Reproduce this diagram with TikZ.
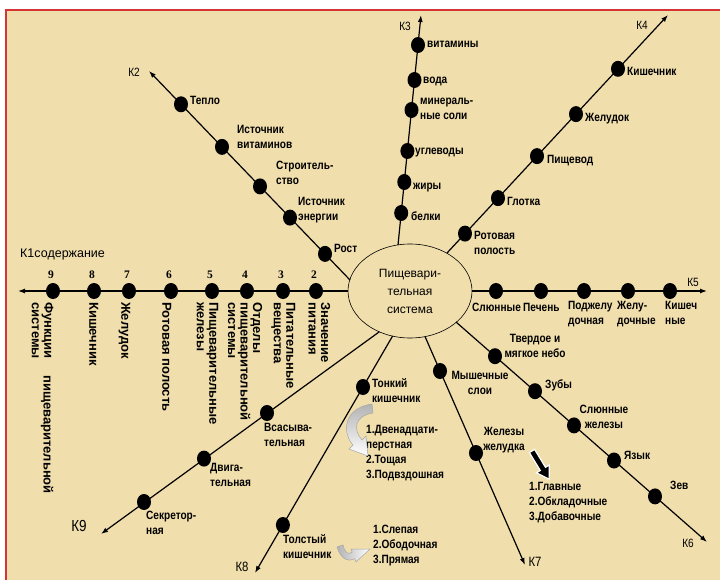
\documentclass[tikz,border=0pt]{standalone}
\usepackage{fontspec}
\setmainfont{Liberation Sans}
\newfontfamily\nar[FakeStretch=0.84]{Liberation Sans}
\newfontfamily\numfont{Liberation Serif}
\usetikzlibrary{arrows.meta,shapes.geometric}
\definecolor{papyrus}{RGB}{240,222,172}
\definecolor{frame}{RGB}{214,52,52}
\newcommand\lf{\nar\bfseries\fontsize{12}{15}\selectfont}
\newcommand\rf{\bfseries\fontsize{13}{12.5}\selectfont}
\newcommand\kf{\nar\fontsize{12}{13}\selectfont}
\begin{document}
\begin{tikzpicture}[x=1pt,y=-1pt,
  ax/.style={line width=1.2pt,-{Latex[length=7pt,width=5pt]}},
  dot/.style={ellipse,fill=black,minimum width=14pt,minimum height=16pt,inner sep=0},
  hl/.style={anchor=north west,yshift=7.4pt,inner sep=0,align=left,font=\lf,execute at begin node=\strut},
  hc/.style={hl,anchor=north,align=center},
  rl/.style={rotate=-90,anchor=north west,inner sep=0,align=left,font=\rf,execute at begin node=\strut},
  klab/.style={font=\kf,inner sep=0},
  num/.style={font=\numfont\bfseries\fontsize{11.5}{13}\selectfont,inner sep=0},
  grayarrow/.style={draw=gray!70,line width=0.5pt}]
\useasboundingbox (0,0) rectangle (720,580);
\fill[white] (0,0) rectangle (720,580);
\fill[papyrus] (6,10) rectangle (720,580);
\draw[frame,line width=2pt] (6,580) -- (6,10) -- (720,10);

% centre
\node[ellipse,draw,line width=0.6pt,minimum width=124pt,minimum height=94pt,inner sep=0,align=center,font=\fontsize{12}{18}\selectfont] (sys) at (410,291) {Пищевари-\\тельная\\система};

% axis ends
\coordinate (t1) at (18,291);
\coordinate (s2) at (350,280);   \coordinate (t2) at (149,71);
\coordinate (s3) at (398,245);   \coordinate (t3) at (421,15);
\coordinate (s4) at (447,253);   \coordinate (t4) at (668,15);
\coordinate (t5) at (707,291);
\coordinate (s6) at (456,322);   \coordinate (t6) at (707,542);
\coordinate (s7) at (425,336.5); \coordinate (t7) at (525,565);
\coordinate (s8) at (392.6,336); \coordinate (t8) at (255,573);
\coordinate (s9) at (379.3,331.8); \coordinate (t9) at (101,534);

\draw[ax] (sys.180) -- (t1);
\draw[ax] (s2) -- (t2);
\draw[ax] (s3) -- (t3);
\draw[ax] (s4) -- (t4);
\draw[ax] (sys.0) -- (t5);
\draw[ax] (s6) -- (t6);
\draw[ax] (s7) -- (t7);
\draw[ax] (s8) -- (t8);
\draw[ax] (s9) -- (t9);

% K1
\foreach \n/\x in {9/53,8/94,7/129,6/171,5/212,4/247,3/283,2/316}{
  \node[dot] (d1\n) at (\x,291) {};
  \node[num] (n1\n) at (\x-2,275) {\n};
}
\node[klab,anchor=west,font=\fontsize{12.5}{14}\selectfont] (k1) at (20,254) {К1содержание};
\node[rl] (l12) at (330.5,302) {Значение\\питания};
\node[rl] (l13) at (295.5,302) {Питательные\\вещества};
\node[rl] (l14) at (262.5,302) {Отделы\\пищеварительной\\системы};
\node[rl] (l15) at (218.5,302) {Пищеварительные\\железы};
\node[rl] (l16) at (171.5,302) {Ротовая полость};
\node[rl] (l17) at (130.5,302) {Желудок};
\node[rl] (l18) at (98.5,302) {Кишечник};
\node[rl] (l19) at (53.5,302) {Функции\\системы};
\node[rl] (l19b) at (53.5,375) {пищеварительной};

% K2
\node[dot] (d21) at (181,104.3) {};
\node[dot] (d22) at (222,146.9) {};
\node[dot] (d23) at (260,186.4) {};
\node[dot] (d24) at (290,217.6) {};
\node[dot] (d25) at (325,253.9) {};
\node[hl] (l21) at (190,101) {Тепло};
\node[hl] (l22) at (237,132) {Источник\\витаминов};
\node[hl] (l23) at (276,168) {Строитель-\\ство};
\node[hl] (l24) at (298,204) {Источник\\энергии};
\node[hl] (l25) at (334,249) {Рост};
\node[klab] (k2) at (134,72) {К2};

% K3
\node[dot] (d31) at (418,45) {};
\node[dot] (d32) at (414.5,80) {};
\node[dot] (d33) at (411.5,110) {};
\node[dot] (d34) at (407.4,151) {};
\node[dot] (d35) at (404.3,182) {};
\node[dot] (d36) at (401.2,213) {};
\node[hl] (l31) at (427,44) {витамины};
\node[hl] (l32) at (423,80) {вода};
\node[hl] (l33) at (420,105) {минераль-\\ные соли};
\node[hl] (l34) at (415,151) {углеводы};
\node[hl] (l35) at (413,186) {жиры};
\node[hl] (l36) at (411,217) {белки};
\node[klab] (k3) at (405,26) {К3};

% K4
\node[dot] (d41) at (465,233.6) {};
\node[dot] (d42) at (498,198.1) {};
\node[dot] (d43) at (537,156.1) {};
\node[dot] (d44) at (576,114.1) {};
\node[dot] (d45) at (618,68.8) {};
\node[hl] (l41) at (474,238) {Ротовая\\полость};
\node[hl] (l42) at (507,202) {Глотка};
\node[hl] (l43) at (547,160) {Пищевод};
\node[hl] (l44) at (585,118) {Желудок};
\node[hl] (l45) at (627,72) {Кишечник};
\node[klab] (k4) at (642,25) {К4};

% K5
\foreach \i/\x in {1/496,2/541,3/584,4/628,5/670}{
  \node[dot] (d5\i) at (\x,291) {};
}
\node[hl] (l51) at (472,308) {Слюнные};
\node[hl] (l52) at (523,308) {Печень};
\node[hl] (l53) at (568,308) {Поджелу\\дочная};
\node[hl] (l54) at (617,308) {Желу-\\дочные};
\node[hl] (l55) at (665,308) {Кишеч\\ные};
\node[klab] (k5) at (693,282) {К5};

% K6
\node[dot] (d61) at (495,356.2) {};
\node[dot] (d62) at (535,391.2) {};
\node[dot] (d63) at (574,425.4) {};
\node[dot] (d64) at (614,460.5) {};
\node[dot] (d65) at (655,496.4) {};
\node[hc] (l61) at (535,341) {Твердое и\\мягкое небо};
\node[hl] (l62) at (545,385) {Зубы};
\node[hc] (l63) at (604,412) {Слюнные\\железы};
\node[hl] (l64) at (624,456) {Язык};
\node[hl] (l65) at (670,486) {Зев};
\node[klab] (k6) at (688,543) {К6};

% K7
\node[dot] (d71) at (440,371) {};
\node[dot] (d72) at (476,453) {};
\node[hc] (l71) at (480,378) {Мышечные\\слои};
\node[hc] (l72) at (504,434) {Железы\\желудка};
\filldraw[fill=black,draw=white,line width=1.2pt,line join=miter]
  (534.6,449.4) -- (545.5,467.3) -- (549.3,465.0) -- (549.1,479.2)
  -- (536.5,472.8) -- (540.3,470.5) -- (529.4,452.6) -- cycle;
\node[hl] (l73) at (529,489) {1.Главные\\2.Обкладочные\\3.Добавочные};
\node[klab,font=\nar\fontsize{13.5}{15}\selectfont] (k7) at (535,562) {К7};

% K8
\node[dot] (d81) at (363,387) {};
\node[dot] (d82) at (282.9,525) {};
\node[hl] (l81) at (372,386) {Тонкий\\кишечник};
\node[hl] (l82) at (283,542) {Толстый\\кишечник};
\node[hl] (l83) at (366,432) {1.Двенадцати-\\перстная\\2.Тощая\\3.Подвздошная};
\node[hl] (l84) at (373,532) {1.Слепая\\2.Ободочная\\3.Прямая};
\node[klab,font=\nar\fontsize{13.5}{15}\selectfont] (k8) at (242,567) {К8};
\shade[top color=gray!60,bottom color=white,grayarrow]
  (372,404) .. controls (343,408) and (342,433) .. (353,445) -- (349,449) -- (368,456)
  -- (366,436) -- (362,440) .. controls (353,430) and (354,416) .. (373,413) -- cycle;
\shade[left color=gray!60,right color=white,grayarrow]
  (337,547) .. controls (341,560) and (349,562) .. (354.7,558.7) -- (356,562) -- (370,549)
  -- (351,549) -- (352.2,552.2) .. controls (348,555) and (345,553) .. (343,545) -- cycle;

% K9
\node[dot] (d91) at (267,413) {};
\node[dot] (d92) at (204,458.6) {};
\node[dot] (d93) at (144,502) {};
\node[hl] (l91) at (264,430) {Всасыва-\\тельная};
\node[hl] (l92) at (210,470) {Двига-\\тельная};
\node[hl] (l93) at (146,518) {Секретор-\\ная};
\node[klab,font=\nar\fontsize{16}{18}\selectfont] (k9) at (79,526) {К9};
\end{tikzpicture}
\end{document}
